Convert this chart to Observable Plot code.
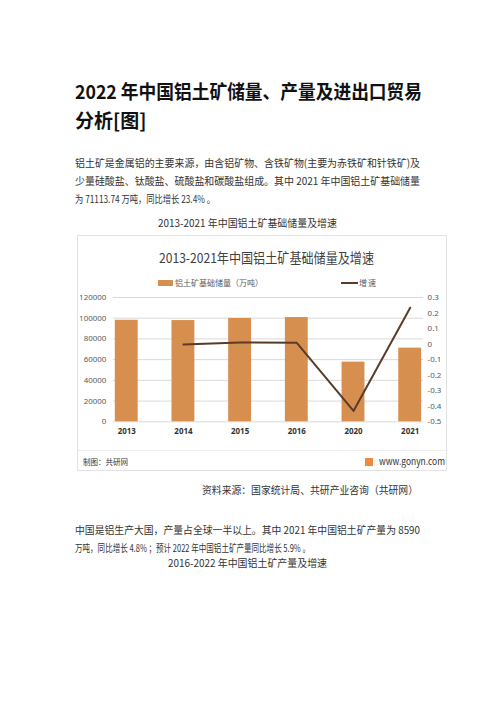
<!DOCTYPE html>
<html><head><meta charset="utf-8">
<script src="https://cdn.jsdelivr.net/npm/d3@7"></script>
<script src="https://cdn.jsdelivr.net/npm/@observablehq/plot@0.6"></script>
<style>
html,body{margin:0;padding:0;background:#fff;}
#page{position:relative;width:496px;height:702px;overflow:hidden;font-family:"Noto Sans CJK SC","Noto Sans",sans-serif;color:#222;}
.t{position:absolute;white-space:nowrap;line-height:1;transform-origin:0 50%;}
#box{position:absolute;left:77px;top:235px;width:370px;height:236px;border:1px solid #e2e2e2;box-sizing:border-box;background:#fff;}
#chart{position:absolute;left:0px;top:55px;}
</style></head>
<body><div id="page"><div id="box"><div id="chart"></div></div></div>
<script>
const years = ["2013","2014","2015","2016","2020","2021"];
const reserves = [98000, 97700, 99800, 100600, 57600, 71114];
const growth = [null, -0.003, 0.01, 0.008, -0.43, 0.234];
const leftTicks = [0, 20000, 40000, 60000, 80000, 100000, 120000];
const rightTicks = [-0.5, -0.4, -0.3, -0.2, -0.1, 0, 0.1, 0.2, 0.3];
const chartTitle = "2013-2021年中国铝土矿基础储量及增速";
const barLabel = "铝土矿基础储量（万吨）";
const lineLabel = "增速";

const page = document.getElementById("page");
const box = document.getElementById("box");
// place text: parent, text, left, centerY, fontSize, targetWidth, opts
function put(parent, text, x, cy, size, w, opts = {}) {
  const s = document.createElement("div");
  s.className = "t";
  s.textContent = text;
  s.style.fontSize = size + "px";
  if (opts.bold) s.style.fontWeight = "bold";
  if (opts.color) s.style.color = opts.color;
  parent.appendChild(s);
  const r = s.getBoundingClientRect();
  if (w) {
    if (r.width > w) {
      s.style.transform = "scaleX(" + (w / r.width) + ")";
    } else {
      const n = [...text].length;
      s.style.letterSpacing = ((w - r.width) / Math.max(1, n - 1)) + "px";
    }
  }
  const width = w || r.width;
  let left = x;
  if (opts.anchor === "middle") left = x - width / 2;
  if (opts.anchor === "end") left = x - width;
  s.style.left = left + "px";
  s.style.top = (cy - r.height / 2) + "px";
  return s;
}

// document text
put(page, "2022 年中国铝土矿储量、产量及进出口贸易", 75, 90, 19, 347, {bold: true, color: "#111"});
put(page, "分析[图]", 75, 119, 19, 0, {bold: true, color: "#111"});
put(page, "铝土矿是金属铝的主要来源，由含铝矿物、含铁矿物(主要为赤铁矿和针铁矿)及", 75, 163, 10.5, 345, {color: "#333"});
put(page, "少量硅酸盐、钛酸盐、硫酸盐和碳酸盐组成。其中 2021 年中国铝土矿基础储量", 75, 181, 10.5, 345, {color: "#333"});
put(page, "为 71113.74 万吨，同比增长 23.4% 。", 75, 199, 10.5, 140, {color: "#333"});
put(page, "2013-2021 年中国铝土矿基础储量及增速", 158, 223, 10.5, 179, {color: "#333"});
put(page, "资料来源：国家统计局、共研产业咨询（共研网）", 202, 490, 10.5, 216, {color: "#333"});
put(page, "中国是铝生产大国，产量占全球一半以上。其中 2021 年中国铝土矿产量为 8590", 75, 530, 10.5, 345, {color: "#333"});
put(page, "万吨，同比增长 4.8% ；预计 2022 年中国铝土矿产量同比增长 5.9% 。", 75, 548, 10.5, 235, {color: "#333"});
put(page, "2016-2022 年中国铝土矿产量及增速", 168, 563, 10.5, 159, {color: "#333"});

// chart box texts (box origin at 77,235)
put(box, chartTitle, 81, 22, 13.5, 215, {color: "#404040"});
const sw = document.createElement("div");
Object.assign(sw.style, {position: "absolute", left: "80px", top: "44px", width: "15px", height: "6px", background: "#D68F4F"});
box.appendChild(sw);
put(box, barLabel, 97, 47, 8, 88, {color: "#595959"});
const ln = document.createElement("div");
Object.assign(ln.style, {position: "absolute", left: "263px", top: "46px", width: "17px", height: "2px", background: "#5a3b2a"});
box.appendChild(ln);
put(box, lineLabel, 281, 47, 8, 17, {color: "#595959"});
const sep = document.createElement("div");
Object.assign(sep.style, {position: "absolute", left: "0px", top: "214px", width: "370px", height: "1px", background: "#eeeeee"});
box.appendChild(sep);
put(box, "制图：共研网", 5, 226, 8, 45, {color: "#333"});
const ic = document.createElement("div");
Object.assign(ic.style, {position: "absolute", left: "287px", top: "222px", width: "8px", height: "8px", background: "#ef8a3c"});
box.appendChild(ic);
put(box, "www.gonyn.com", 301, 226, 9.5, 66, {color: "#333"});

// chart
const toY = g => (g + 0.5) / 0.8 * 120000;
const fromY = v => Math.round((v / 120000 * 0.8 - 0.5) * 10) / 10;
const rows = years.map((y, i) => ({year: y, reserve: reserves[i], growth: growth[i], gy: growth[i] == null ? null : toY(growth[i])}));

const svg = Plot.plot({
  width: 370, height: 150,
  marginLeft: 35, marginRight: 23, marginTop: 6, marginBottom: 19,
  style: {fontFamily: "'Noto Sans','Noto Sans CJK SC',sans-serif", fontSize: "8px", color: "#595959", background: "transparent"},
  x: {domain: years, paddingInner: 0.6, paddingOuter: 0, label: null},
  y: {domain: [0, 120000], label: null},
  marks: [
    Plot.ruleY(leftTicks, {stroke: "#d9d9d9", strokeWidth: 1}),
    Plot.barY(rows, {x: "year", y: "reserve", fill: "#D68F4F"}),
    Plot.line(rows, {x: "year", y: "gy", stroke: "#5a3b2a", strokeWidth: 2}),
    Plot.axisY(leftTicks, {anchor: "left", tickSize: 0, tickPadding: 7, tickFormat: d => String(d), label: null}),
    Plot.axisY(rightTicks.map(toY), {anchor: "right", tickSize: 0, tickPadding: 4, tickFormat: v => String(fromY(v)), label: null}),
    Plot.axisX({tickSize: 0, tickPadding: 7, fontWeight: "bold", fill: "#333", label: null})
  ]
});
document.getElementById("chart").appendChild(svg);
</script>
</body></html>
